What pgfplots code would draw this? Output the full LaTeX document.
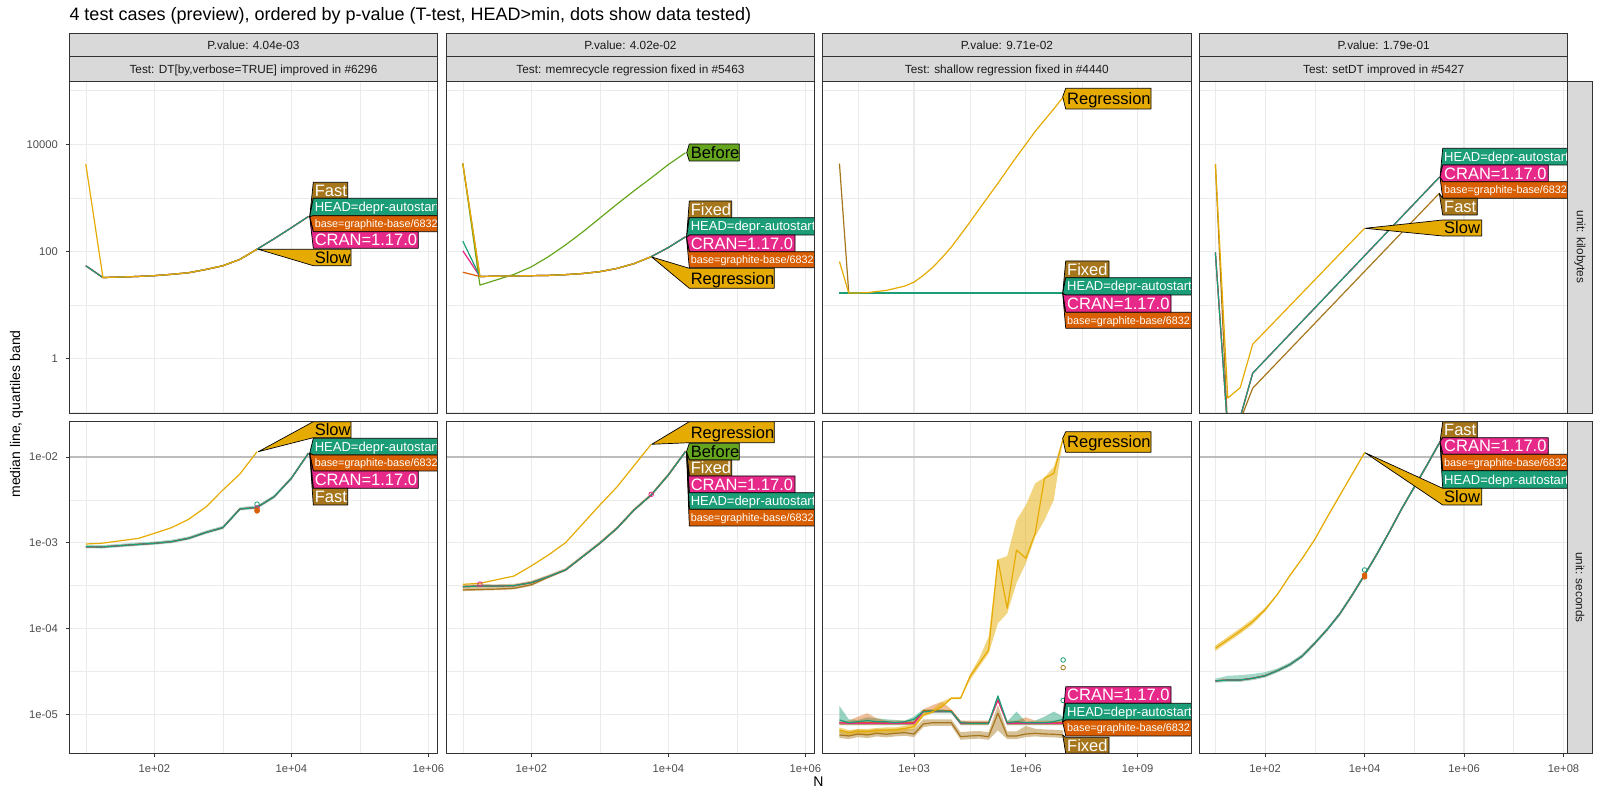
\documentclass[border=0pt]{standalone}
\usepackage{fontspec}
\setmainfont{Liberation Sans}
\usepackage{pgfplots}
\usepackage{pgfplotstable}
\pgfplotsset{compat=1.18}
\usepgfplotslibrary{fillbetween}

\definecolor{cHEAD}{HTML}{1B9E77}
\definecolor{cBASE}{HTML}{D95F02}
\definecolor{cCRAN}{HTML}{E7298A}
\definecolor{cBEF}{HTML}{66A61E}
\definecolor{cSLOW}{HTML}{E6AB02}
\definecolor{cFAST}{HTML}{A6761D}
\definecolor{grid92}{HTML}{EBEBEB}
\definecolor{g20}{HTML}{333333}
\definecolor{g30}{HTML}{4D4D4D}
\definecolor{g10}{HTML}{1A1A1A}
\definecolor{stripc}{HTML}{D9D9D9}
\definecolor{hlc}{HTML}{BDBDBD}

% ---- data (N = data size) ----
% row 1 = kilobytes, row 2 = seconds
\pgfplotstableread{
N slow other
10 4266 53.7
17.78 32.4 32.4
31.62 33.1 33.1
56.23 33.9 33.9
100 35.1 35.1
177.8 37.2 37.2
316.2 39.8 39.8
562.3 45.7 45.7
1000 53.7 53.7
1778 70.8 70.8
3162 109.6 109.6
5623 nan 171.8
10000 nan 275.4
17783 nan 446.7
}\tAa
\pgfplotstableread{
N reg head cran base fixed before
10 4365 154.9 102.3 40.7 4365 4365
17.78 33.9 33.9 33.9 33.9 33.9 23.4
31.62 34.3 34.3 34.3 34.3 34.3 29.5
56.23 34.7 34.7 34.7 34.7 34.7 37.2
100 35.1 35.1 35.1 35.1 35.1 51.3
177.8 35.5 35.5 35.5 35.5 35.5 79.4
316.2 36.7 36.7 36.7 36.7 36.7 131.8
562.3 38.5 38.5 38.5 38.5 38.5 229.1
1000 41.7 41.7 41.7 41.7 41.7 416.9
1778 47.9 47.9 47.9 47.9 47.9 758.6
3162 58.9 58.9 58.9 58.9 58.9 1349
5623 79.4 79.4 79.4 79.4 79.4 2344
10000 nan 117.5 117.5 117.5 117.5 4169
17783 nan 186.2 186.2 186.2 186.2 6918
}\tAb
\pgfplotstableread{
N reg other fixed
10 64.6 16.6 4365
17.78 16.6 16.6 16.6
31.62 16.7 16.6 16.6
56.23 16.9 16.6 16.6
100 17.8 16.6 16.6
177.8 18.6 16.6 16.6
316.2 20.4 16.6 16.6
562.3 22.4 16.6 16.6
1000 26.6 16.6 16.6
1778 35.5 16.6 16.6
3162 50.1 16.6 16.6
5623 75.9 16.6 16.6
10000 120.2 16.6 16.6
17783 204.2 16.6 16.6
31623 350.8 16.6 16.6
56234 616.6 16.6 16.6
100000 1072 16.6 16.6
177828 1862 16.6 16.6
316228 3311 16.6 16.6
562341 5821 16.6 16.6
1000000 10000 16.6 16.6
1778279 17378 16.6 16.6
3162278 28184 16.6 16.6
5623413 45709 16.6 16.6
10000000 75858 16.6 16.6
}\tAc
\pgfplotstableread{
N slow head fast
10 4266 95.5 4266
17.78 0.182 0.043 0.043
31.62 0.285 0.08 0.07
56.23 1.84 0.53 0.278
10000 269 nan nan
316228 nan 2399 1202
}\tAd
\pgfplotstableread{
N slow other oU oL
10 9.68e-4 8.99e-4 9.44e-4 8.63e-4
17 9.86e-4 8.93e-4 9.38e-4 8.57e-4
31.62 nan 9.25e-4 9.71e-4 8.88e-4
59 1.127e-3 9.59e-4 1.007e-3 9.21e-4
100 1.288e-3 9.86e-4 1.035e-3 9.47e-4
177.8 1.50e-3 1.03e-3 1.082e-3 9.89e-4
316.2 1.875e-3 1.127e-3 1.183e-3 1.082e-3
575 2.636e-3 1.324e-3 1.390e-3 1.271e-3
1000 4.12e-3 1.50e-3 1.575e-3 1.44e-3
1778 6.34e-3 2.477e-3 2.60e-3 2.378e-3
3162 1.153e-2 2.588e-3 2.717e-3 2.484e-3
5623 nan 3.443e-3 3.615e-3 3.305e-3
10000 nan 5.636e-3 5.918e-3 5.411e-3
17783 nan 1.104e-2 1.159e-2 1.06e-2
}\tBa
\pgfplotstableread{
N reg other fixed oU oL
10 3.28e-4 3.076e-4 2.818e-4 3.23e-4 2.73e-4
17.78 3.365e-4 3.133e-4 2.851e-4 3.29e-4 2.77e-4
31.62 3.715e-4 3.126e-4 2.884e-4 3.28e-4 2.80e-4
56.23 4.102e-4 3.162e-4 2.951e-4 3.32e-4 2.86e-4
100 5.37e-4 3.428e-4 3.236e-4 3.60e-4 3.14e-4
177.8 7.21e-4 4.027e-4 3.98e-4 4.23e-4 3.86e-4
316.2 1.002e-3 4.819e-4 4.819e-4 5.06e-4 4.67e-4
562.3 1.66e-3 6.887e-4 6.887e-4 7.23e-4 6.68e-4
1000 2.754e-3 9.86e-4 9.86e-4 1.035e-3 9.56e-4
1778 4.467e-3 1.472e-3 1.472e-3 1.546e-3 1.428e-3
3162 7.943e-3 2.410e-3 2.410e-3 2.53e-3 2.34e-3
5623 1.406e-2 3.606e-3 3.606e-3 3.786e-3 3.50e-3
10000 nan 6.166e-3 6.166e-3 6.47e-3 5.98e-3
17783 nan 1.153e-2 1.153e-2 1.21e-2 1.12e-2
}\tBb
\pgfplotstableread{
N reg regU regL head headU headL cran base baseU baseL fixed fixedU fixedL
10 6.56e-6 7.02e-6 6.04e-6 8.59e-6 1.25e-5 7.5e-6 7.98e-6 7.98e-6 8.2e-6 7.5e-6 5.74e-6 6.49e-6 5.28e-6
17.78 6.11e-6 6.54e-6 5.62e-6 7.98e-6 8.74e-6 7.5e-6 7.85e-6 7.98e-6 8.43e-6 7.5e-6 5.59e-6 6.32e-6 5.14e-6
31.62 6.31e-6 6.75e-6 5.81e-6 8.20e-6 8.59e-6 7.5e-6 7.85e-6 7.98e-6 9.38e-6 7.5e-6 5.89e-6 6.66e-6 5.42e-6
56.23 6.31e-6 6.75e-6 5.81e-6 8.43e-6 9.22e-6 7.5e-6 7.85e-6 7.98e-6 1.028e-5 7.5e-6 5.74e-6 6.49e-6 5.28e-6
100 6.46e-6 6.91e-6 5.94e-6 8.20e-6 8.97e-6 7.5e-6 7.85e-6 7.98e-6 8.97e-6 7.5e-6 6.00e-6 6.78e-6 5.52e-6
177.8 6.56e-6 7.02e-6 6.04e-6 8.20e-6 8.74e-6 7.5e-6 7.85e-6 7.98e-6 8.43e-6 7.5e-6 5.85e-6 6.61e-6 5.38e-6
316.2 6.56e-6 7.02e-6 6.04e-6 7.98e-6 8.59e-6 7.5e-6 7.85e-6 7.98e-6 8.43e-6 7.5e-6 6.00e-6 6.78e-6 5.52e-6
562.3 6.85e-6 7.33e-6 6.30e-6 8.20e-6 8.43e-6 7.5e-6 7.85e-6 7.98e-6 8.43e-6 7.5e-6 6.11e-6 6.90e-6 5.62e-6
1000 7.18e-6 7.68e-6 6.61e-6 8.74e-6 9.38e-6 7.5e-6 7.85e-6 7.98e-6 8.43e-6 7.5e-6 5.89e-6 6.66e-6 5.42e-6
1778 9.82e-6 1.05e-5 9.4e-6 1.074e-5 1.143e-5 1.028e-5 1.074e-5 1.102e-5 1.143e-5 1.05e-5 7.71e-6 8.74e-6 7.09e-6
3162 1.072e-5 1.15e-5 1.03e-5 1.094e-5 1.143e-5 1.028e-5 1.074e-5 1.102e-5 1.28e-5 1.05e-5 7.98e-6 8.74e-6 7.34e-6
5623 1.23e-5 1.40e-5 1.20e-5 1.094e-5 1.143e-5 1.028e-5 1.074e-5 1.102e-5 1.403e-5 1.05e-5 7.98e-6 8.74e-6 7.34e-6
10000 1.535e-5 1.58e-5 1.50e-5 1.074e-5 1.102e-5 1.028e-5 1.074e-5 1.102e-5 1.143e-5 1.05e-5 7.98e-6 8.74e-6 7.34e-6
17783 1.535e-5 1.60e-5 1.50e-5 7.98e-6 8.43e-6 7.5e-6 7.85e-6 7.98e-6 8.43e-6 7.5e-6 5.48e-6 6.19e-6 5.04e-6
31623 2.748e-5 2.9e-5 2.5e-5 7.85e-6 8.20e-6 7.5e-6 7.85e-6 7.98e-6 8.43e-6 7.5e-6 5.59e-6 6.32e-6 5.14e-6
56234 3.936e-5 4.5e-5 3.6e-5 7.85e-6 8.20e-6 7.5e-6 7.85e-6 7.98e-6 8.43e-6 7.5e-6 5.65e-6 6.38e-6 5.20e-6
100000 5.623e-5 8.0e-5 5.1e-5 7.85e-6 8.20e-6 7.5e-6 7.85e-6 7.98e-6 8.43e-6 7.5e-6 5.48e-6 6.19e-6 5.04e-6
177828 6.31e-4 6.4e-4 1.15e-4 1.633e-5 1.679e-5 1.5e-5 1.469e-5 1.469e-5 1.5e-5 1.4e-5 1.028e-5 1.283e-5 6.5e-6
316228 1.722e-4 7.0e-4 1.5e-4 7.98e-6 8.20e-6 7.5e-6 7.85e-6 7.98e-6 8.43e-6 7.5e-6 5.59e-6 6.32e-6 5.14e-6
562341 8.24e-4 1.84e-3 3.4e-4 8.20e-6 1.074e-5 7.5e-6 7.85e-6 7.98e-6 8.43e-6 7.5e-6 5.59e-6 6.32e-6 5.14e-6
1000000 6.59e-4 2.75e-3 5.75e-4 7.98e-6 8.20e-6 7.5e-6 7.85e-6 7.98e-6 9.22e-6 7.5e-6 5.89e-6 7.31e-6 5.42e-6
1778279 1.288e-3 4.93e-3 1.17e-3 7.98e-6 8.43e-6 7.5e-6 7.85e-6 7.98e-6 8.43e-6 7.5e-6 6.00e-6 6.78e-6 5.52e-6
3162278 5.636e-3 5.8e-3 1.84e-3 7.98e-6 9.38e-6 7.5e-6 7.85e-6 7.98e-6 8.43e-6 7.5e-6 5.89e-6 6.66e-6 5.42e-6
5623413 6.457e-3 7.7e-3 3.16e-3 8.20e-6 1.074e-5 7.5e-6 7.85e-6 7.98e-6 8.43e-6 7.5e-6 5.85e-6 6.61e-6 5.38e-6
10000000 1.652e-2 1.66e-2 1.64e-2 8.74e-6 9.38e-6 7.5e-6 7.85e-6 7.98e-6 8.43e-6 7.5e-6 5.74e-6 6.49e-6 5.28e-6
}\tBc
\pgfplotstableread{
N other oU oL
10 2.455e-5 2.60e-5 2.33e-5
17.78 2.512e-5 2.81e-5 2.39e-5
31.62 2.512e-5 2.86e-5 2.39e-5
56.23 2.630e-5 2.95e-5 2.50e-5
100 2.818e-5 3.10e-5 2.68e-5
177.8 3.236e-5 3.43e-5 3.07e-5
316.2 3.802e-5 4.03e-5 3.61e-5
562.3 4.786e-5 5.07e-5 4.55e-5
1000 6.761e-5 7.10e-5 6.42e-5
1778 9.772e-5 1.026e-4 9.28e-5
3162 1.479e-4 1.553e-4 1.405e-4
5623 2.455e-4 2.58e-4 2.33e-4
10000 4.217e-4 4.43e-4 4.01e-4
17783 7.413e-4 7.78e-4 7.04e-4
31623 1.349e-3 1.416e-3 1.282e-3
56234 2.512e-3 2.64e-3 2.39e-3
100000 4.467e-3 4.69e-3 4.24e-3
177828 7.943e-3 8.34e-3 7.55e-3
316228 1.445e-2 1.52e-2 1.37e-2
}\tBd
\pgfplotstableread{
N slow sU sL
10 5.888e-5 6.36e-5 5.48e-5
17.78 7.413e-5 8.0e-5 6.9e-5
31.62 9.333e-5 1.008e-4 8.68e-5
56.23 1.202e-4 1.298e-4 1.118e-4
100 1.660e-4 1.74e-4 1.58e-4
177.8 2.512e-4 2.56e-4 2.46e-4
316.2 4.169e-4 4.25e-4 4.09e-4
562.3 6.607e-4 6.74e-4 6.47e-4
1000 1.096e-3 1.118e-3 1.074e-3
1778 1.995e-3 2.035e-3 1.955e-3
3162 3.548e-3 3.62e-3 3.48e-3
5623 6.310e-3 6.44e-3 6.18e-3
10000 1.122e-2 1.144e-2 1.10e-2
}\tBe

\pgfplotsset{
  /pgfplots/facetpanel/.style={
    scale only axis, width=368.3pt, height=332pt, anchor=south west,
    axis line style={draw=g20, line width=0.75pt},
    grid=both,
    major grid style={draw=grid92, line width=1.1pt},
    minor grid style={draw=grid92, line width=0.55pt},
    tick pos=left,
    tick align=outside, major tick length=3.7pt, minor tick length=0pt,
    tick style={draw=g20, line width=0.75pt},
    xticklabel style={font=\fontsize{11.2}{12}\selectfont, text=g30, anchor=north, inner sep=0pt, yshift=-7.7pt},
    yticklabel style={font=\fontsize{11.2}{12}\selectfont, text=g30, anchor=east, inner sep=0pt, xshift=-7.6pt},
  },
  /pgfplots/rowkb/.style={ymin=0.0957, ymax=1.517e5, ytick={1,100,10000}, minor ytick={0.1,10,1000,1e5}},
  /pgfplots/rowsec/.style={ymin=3.508e-6, ymax=0.02582, ytick={1e-5,1e-4,1e-3,1e-2}, minor ytick={3.162e-5,3.162e-4,3.162e-3}},
  /pgfplots/colab/.style={xmin=5.741, xmax=1.368e6, xtick={100,1e4,1e6}, minor xtick={10,1000,1e5}},
  /pgfplots/colc/.style={xmin=3.556, xmax=2.692e10, xtick={1e3,1e6,1e9}, minor xtick={31.62,31623,3.162e7}},
  /pgfplots/cold/.style={xmin=4.797, xmax=1.222e8, xtick={100,1e4,1e6,1e8}, minor xtick={10,1000,1e5,1e7}},
  /pgfplots/noxt/.style={xticklabels={}, xtick style={draw=none}},
  /pgfplots/noyt/.style={yticklabels={}, ytick style={draw=none}},
  /pgfplots/ln/.style={line width=1.2pt, line join=round},
  /pgfplots/dotm/.style={only marks, mark=o, mark size=2.3pt, line width=0.8pt},
  /pgfplots/refl/.style={draw=hlc, line width=1.1pt},
}

% directlabels-style polygon: point, box left, top, bottom, right, fill, text colour, size, text
\newcommand{\dlab}[9]{%
  \filldraw[fill=#6, draw=black, line width=0.7pt, line join=round] (#1) -- (#2,#3) -- (#5,#3) -- (#5,#4) -- (#2,#4) -- cycle;
  \node[anchor=base west, inner sep=0pt, text=#7, font=\fontsize{#8}{#8}\selectfont] at ({#2+1.3},{(#3+#4)/2+0.358*#8}) {#9};}
\newcommand{\stripbox}[5]{%
  \filldraw[fill=stripc, draw=g20, line width=0.7pt] (#1,#3) rectangle (#2,#4);
  \node[anchor=base, inner sep=0pt, text=g10, font=\fontsize{11.8}{12}\selectfont] at ({(#1+#2)/2},{(#3+#4)/2+4.6}) {#5};}

\begin{document}
\begin{tikzpicture}

% ---------------- row 1: kilobytes ----------------
\begin{axis}[xmode=log, ymode=log, facetpanel, rowkb, colab, noxt, at={(69.3pt,387pt)}, yticklabels={1,100,10000}]
\addplot[ln, cFAST] table[x=N, y=other] {\tAa};
\addplot[ln, cBASE] table[x=N, y=other] {\tAa};
\addplot[ln, cCRAN] table[x=N, y=other] {\tAa};
\addplot[ln, cHEAD] table[x=N, y=other] {\tAa};
\addplot[ln, cSLOW] table[x=N, y=slow] {\tAa};
\end{axis}

\begin{axis}[xmode=log, ymode=log, facetpanel, rowkb, colab, noxt, noyt, at={(446.3pt,387pt)}]
\addplot[ln, cBEF] table[x=N, y=before] {\tAb};
\addplot[ln, cFAST] table[x=N, y=fixed] {\tAb};
\addplot[ln, cBASE] table[x=N, y=base] {\tAb};
\addplot[ln, cCRAN] table[x=N, y=cran] {\tAb};
\addplot[ln, cHEAD] table[x=N, y=head] {\tAb};
\addplot[ln, cSLOW] table[x=N, y=reg] {\tAb};
\end{axis}

\begin{axis}[xmode=log, ymode=log, facetpanel, rowkb, colc, noxt, noyt, at={(822.7pt,387pt)}]
\addplot[ln, cFAST] table[x=N, y=fixed] {\tAc};
\addplot[ln, cBASE] table[x=N, y=other] {\tAc};
\addplot[ln, cCRAN] table[x=N, y=other] {\tAc};
\addplot[ln, cHEAD] table[x=N, y=other] {\tAc};
\addplot[ln, cSLOW] table[x=N, y=reg] {\tAc};
\end{axis}

\begin{axis}[xmode=log, ymode=log, facetpanel, rowkb, cold, noxt, noyt, at={(1199.5pt,387pt)}]
\addplot[ln, cFAST] table[x=N, y=fast] {\tAd};
\addplot[ln, cBASE] table[x=N, y=head] {\tAd};
\addplot[ln, cCRAN] table[x=N, y=head] {\tAd};
\addplot[ln, cHEAD] table[x=N, y=head] {\tAd};
\addplot[ln, cSLOW] table[x=N, y=slow] {\tAd};
\end{axis}

% ---------------- row 2: seconds ----------------
\begin{axis}[xmode=log, ymode=log, facetpanel, rowsec, colab, at={(69.3pt,46.7pt)}, height=331.6pt,
  xticklabels={1e+02,1e+04,1e+06}, yticklabels={1e-05,1e-04,1e-03,1e-02}]
\addplot[refl] coordinates {(5.741,0.01)(1.368e6,0.01)};
\addplot[name path=u, draw=none] table[x=N, y=oU] {\tBa};
\addplot[name path=l, draw=none] table[x=N, y=oL] {\tBa};
\addplot[fill=cHEAD, fill opacity=0.4, draw=none] fill between[of=u and l];
\addplot[ln, cFAST] table[x=N, y=other] {\tBa};
\addplot[ln, cBASE] table[x=N, y=other] {\tBa};
\addplot[ln, cCRAN] table[x=N, y=other] {\tBa};
\addplot[ln, cHEAD] table[x=N, y=other] {\tBa};
\addplot[ln, cSLOW] table[x=N, y=slow] {\tBa};
\addplot[dotm, cHEAD] coordinates {(3162,2.82e-3)};
\addplot[dotm, cCRAN] coordinates {(3162,2.55e-3)};
\addplot[dotm, cBASE, mark=*] coordinates {(3162,2.41e-3)(3162,2.35e-3)};
\end{axis}

\begin{axis}[xmode=log, ymode=log, facetpanel, rowsec, colab, noyt, at={(446.3pt,46.7pt)}, height=331.6pt,
  xticklabels={1e+02,1e+04,1e+06}]
\addplot[refl] coordinates {(5.741,0.01)(1.368e6,0.01)};
\addplot[name path=u, draw=none] table[x=N, y=oU] {\tBb};
\addplot[name path=l, draw=none] table[x=N, y=oL] {\tBb};
\addplot[fill=cFAST, fill opacity=0.45, draw=none] fill between[of=u and l];
\addplot[ln, cFAST] table[x=N, y=fixed] {\tBb};
\addplot[ln, cBEF] table[x=N, y=other] {\tBb};
\addplot[ln, cBASE] table[x=N, y=other] {\tBb};
\addplot[ln, cCRAN] table[x=N, y=other] {\tBb};
\addplot[ln, cHEAD] table[x=N, y=other] {\tBb};
\addplot[ln, cSLOW] table[x=N, y=reg] {\tBb};
\addplot[dotm, cCRAN] coordinates {(5623,3.67e-3)(17.78,3.3e-4)};
\end{axis}

\begin{axis}[xmode=log, ymode=log, facetpanel, rowsec, colc, noyt, at={(822.7pt,46.7pt)}, height=331.6pt,
  xticklabels={1e+03,1e+06,1e+09}]
\addplot[refl] coordinates {(3.556,0.01)(2.692e10,0.01)};
\addplot[name path=hu, draw=none] table[x=N, y=headU] {\tBc};
\addplot[name path=hd, draw=none] table[x=N, y=headL] {\tBc};
\addplot[fill=cHEAD, fill opacity=0.45, draw=none] fill between[of=hu and hd];
\addplot[name path=bu, draw=none] table[x=N, y=baseU] {\tBc};
\addplot[name path=bd, draw=none] table[x=N, y=baseL] {\tBc};
\addplot[fill=cBASE, fill opacity=0.4, draw=none] fill between[of=bu and bd];
\addplot[name path=fu, draw=none] table[x=N, y=fixedU] {\tBc};
\addplot[name path=fd, draw=none] table[x=N, y=fixedL] {\tBc};
\addplot[fill=cFAST, fill opacity=0.45, draw=none] fill between[of=fu and fd];
\addplot[name path=ru, draw=none] table[x=N, y=regU] {\tBc};
\addplot[name path=rd, draw=none] table[x=N, y=regL] {\tBc};
\addplot[fill=cSLOW, fill opacity=0.5, draw=none] fill between[of=ru and rd];
\addplot[ln, cFAST] table[x=N, y=fixed] {\tBc};
\addplot[ln, cBASE] table[x=N, y=base] {\tBc};
\addplot[ln, cCRAN] table[x=N, y=cran] {\tBc};
\addplot[ln, cHEAD] table[x=N, y=head] {\tBc};
\addplot[ln, cSLOW] table[x=N, y=reg] {\tBc};
\addplot[dotm, cHEAD] coordinates {(1e7,4.3e-5)(1e7,1.45e-5)};
\addplot[dotm, cFAST] coordinates {(1e7,3.5e-5)};
\end{axis}

\begin{axis}[xmode=log, ymode=log, facetpanel, rowsec, cold, noyt, at={(1199.5pt,46.7pt)}, height=331.6pt,
  xticklabels={1e+02,1e+04,1e+06,1e+08}]
\addplot[refl] coordinates {(4.797,0.01)(1.222e8,0.01)};
\addplot[name path=u, draw=none] table[x=N, y=oU] {\tBd};
\addplot[name path=l, draw=none] table[x=N, y=oL] {\tBd};
\addplot[fill=cHEAD, fill opacity=0.4, draw=none] fill between[of=u and l];
\addplot[name path=su, draw=none] table[x=N, y=sU] {\tBe};
\addplot[name path=sd, draw=none] table[x=N, y=sL] {\tBe};
\addplot[fill=cSLOW, fill opacity=0.5, draw=none] fill between[of=su and sd];
\addplot[ln, cFAST] table[x=N, y=other] {\tBd};
\addplot[ln, cBASE] table[x=N, y=other] {\tBd};
\addplot[ln, cCRAN] table[x=N, y=other] {\tBd};
\addplot[ln, cHEAD] table[x=N, y=other] {\tBd};
\addplot[ln, cSLOW] table[x=N, y=slow] {\tBe};
\addplot[dotm, cHEAD] coordinates {(10000,4.82e-4)};
\addplot[dotm, cBASE, mark=*] coordinates {(10000,4.2e-4)(10000,4.0e-4)};
\end{axis}

% ---------------- labels, strips, titles (pixel frame) ----------------
\begin{scope}[x=1pt, y=-1pt, shift={(0pt,800pt)}]
\begin{scope}
\clip (69.3,81) rectangle (437.6,413);
\dlab{309.7,216.7}{313.3}{182.3}{198.3}{347.7}{cFAST}{white}{16.5}{Fast}
\dlab{309.7,216.7}{313.3}{198.3}{215.7}{480}{cHEAD}{white}{13}{HEAD=depr-autostart}
\dlab{309.7,216.7}{313.3}{215.7}{231.7}{480}{cBASE}{white}{10.8}{base=graphite-base/6832}
\dlab{309.7,216.7}{313.3}{231.7}{248.3}{418.3}{cCRAN}{white}{16.5}{CRAN=1.17.0}
\dlab{258.3,249.3}{313.3}{249.3}{265.7}{351}{cSLOW}{black}{16.5}{Slow}
\end{scope}
\begin{scope}
\clip (446.3,81) rectangle (814.6,413);
\dlab{686.7,152.7}{689.3}{144}{161}{739.3}{cBEF}{black}{16.5}{Before}
\dlab{686.5,237.7}{689.3}{201}{217.7}{731.7}{cFAST}{white}{16.5}{Fixed}
\dlab{686.5,237.7}{689.3}{217.7}{235}{860}{cHEAD}{white}{13}{HEAD=depr-autostart}
\dlab{686.5,237.7}{689.3}{235}{251.7}{795}{cCRAN}{white}{16.5}{CRAN=1.17.0}
\dlab{686.5,237.7}{689.3}{251.7}{267.7}{860}{cBASE}{white}{10.8}{base=graphite-base/6832}
\dlab{651.7,257}{689.3}{268.3}{288.3}{774.3}{cSLOW}{black}{16.5}{Regression}
\end{scope}
\begin{scope}
\clip (822.7,81) rectangle (1191,413);
\dlab{1062.7,96.7}{1065.7}{88.3}{109}{1151}{cSLOW}{black}{16.5}{Regression}
\dlab{1062.7,293.3}{1065.7}{261}{277.7}{1109}{cFAST}{white}{16.5}{Fixed}
\dlab{1062.7,293.3}{1065.7}{277.7}{295}{1250}{cHEAD}{white}{13}{HEAD=depr-autostart}
\dlab{1062.7,293.3}{1065.7}{295}{312.3}{1171}{cCRAN}{white}{16.5}{CRAN=1.17.0}
\dlab{1062.7,293.3}{1065.7}{312.3}{328.3}{1250}{cBASE}{white}{10.8}{base=graphite-base/6832}
\end{scope}
\begin{scope}
\clip (1199.5,81) rectangle (1567.8,413);
\dlab{1440,177.3}{1442.7}{148.3}{165}{1620}{cHEAD}{white}{13}{HEAD=depr-autostart}
\dlab{1440,177.3}{1442.7}{165}{181.7}{1548.3}{cCRAN}{white}{16.5}{CRAN=1.17.0}
\dlab{1440,177.3}{1442.7}{181.7}{198.3}{1620}{cBASE}{white}{10.8}{base=graphite-base/6832}
\dlab{1439.3,193.3}{1442.7}{198.3}{215}{1477.3}{cFAST}{white}{16.5}{Fast}
\dlab{1365,228.3}{1442.7}{220}{236}{1481.7}{cSLOW}{black}{16.5}{Slow}
\end{scope}
\begin{scope}
\clip (69.3,421.7) rectangle (437.6,753.3);
\dlab{258.3,451.7}{313.3}{421.7}{437.7}{351}{cSLOW}{black}{16.5}{Slow}
\dlab{309.7,453.3}{313.3}{438.3}{455}{480}{cHEAD}{white}{13}{HEAD=depr-autostart}
\dlab{309.7,453.3}{313.3}{455}{471}{480}{cBASE}{white}{10.8}{base=graphite-base/6832}
\dlab{309.7,453.3}{313.3}{471}{488.3}{418.3}{cCRAN}{white}{16.5}{CRAN=1.17.0}
\dlab{309.7,453.3}{313.3}{488.3}{505}{347.7}{cFAST}{white}{16.5}{Fast}
\end{scope}
\begin{scope}
\clip (446.3,421.7) rectangle (814.6,753.3);
\dlab{651.7,444.3}{689.3}{421.7}{442.7}{774.3}{cSLOW}{black}{16.5}{Regression}
\dlab{686.5,451.7}{689.3}{443.3}{460}{739.3}{cBEF}{black}{16.5}{Before}
\dlab{686.5,451.7}{689.3}{460}{476}{731.7}{cFAST}{white}{16.5}{Fixed}
\dlab{686.5,451.7}{689.3}{476}{492.7}{795}{cCRAN}{white}{16.5}{CRAN=1.17.0}
\dlab{686.5,451.7}{689.3}{492.7}{509.3}{860}{cHEAD}{white}{13}{HEAD=depr-autostart}
\dlab{686.5,451.7}{689.3}{509.3}{526}{860}{cBASE}{white}{10.8}{base=graphite-base/6832}
\end{scope}
\begin{scope}
\clip (822.7,421.7) rectangle (1191,753.3);
\dlab{1062.7,438.3}{1065.7}{431.7}{452.3}{1151}{cSLOW}{black}{16.5}{Regression}
\dlab{1062.7,722}{1065.7}{686.7}{703.3}{1171}{cCRAN}{white}{16.5}{CRAN=1.17.0}
\dlab{1062.7,722}{1065.7}{703.3}{720}{1250}{cHEAD}{white}{13}{HEAD=depr-autostart}
\dlab{1062.7,722}{1065.7}{720}{736}{1250}{cBASE}{white}{10.8}{base=graphite-base/6832}
\dlab{1062.7,735}{1065.7}{737.3}{753.3}{1109}{cFAST}{white}{16.5}{Fixed}
\end{scope}
\begin{scope}
\clip (1199.5,421.7) rectangle (1567.8,753.3);
\dlab{1440,441.7}{1442.7}{421.7}{437.7}{1477.3}{cFAST}{white}{16.5}{Fast}
\dlab{1440,441.7}{1442.7}{437.7}{454.3}{1548.3}{cCRAN}{white}{16.5}{CRAN=1.17.0}
\dlab{1440,441.7}{1442.7}{454.3}{470.7}{1620}{cBASE}{white}{10.8}{base=graphite-base/6832}
\dlab{1440,441.7}{1442.7}{470.7}{488.3}{1620}{cHEAD}{white}{13}{HEAD=depr-autostart}
\dlab{1365,452.7}{1442.7}{488.3}{505}{1481.7}{cSLOW}{black}{16.5}{Slow}
\end{scope}

% panel borders on top
\draw[g20, line width=0.75pt] (69.3,81) rectangle (437.6,413) (446.3,81) rectangle (814.6,413)
  (822.7,81) rectangle (1191,413) (1199.5,81) rectangle (1567.8,413)
  (69.3,421.7) rectangle (437.6,753.3) (446.3,421.7) rectangle (814.6,753.3)
  (822.7,421.7) rectangle (1191,753.3) (1199.5,421.7) rectangle (1567.8,753.3);

% strips
\stripbox{69.3}{437.6}{33.3}{56.7}{P.value: 4.04e-03}
\stripbox{69.3}{437.6}{56.7}{81}{Test: DT[by,verbose=TRUE] improved in \#6296}
\stripbox{446.3}{814.6}{33.3}{56.7}{P.value: 4.02e-02}
\stripbox{446.3}{814.6}{56.7}{81}{Test: memrecycle regression fixed in \#5463}
\stripbox{822.7}{1191}{33.3}{56.7}{P.value: 9.71e-02}
\stripbox{822.7}{1191}{56.7}{81}{Test: shallow regression fixed in \#4440}
\stripbox{1199.5}{1567.8}{33.3}{56.7}{P.value: 1.79e-01}
\stripbox{1199.5}{1567.8}{56.7}{81}{Test: setDT improved in \#5427}
\filldraw[fill=stripc, draw=g20, line width=0.7pt] (1567.8,81) rectangle (1592,413);
\filldraw[fill=stripc, draw=g20, line width=0.7pt] (1567.8,421.7) rectangle (1592,753.3);
\node[rotate=-90, inner sep=0pt, text=g10, font=\fontsize{11.8}{12}\selectfont] at (1580,247) {unit: kilobytes};
\node[rotate=-90, inner sep=0pt, text=g10, font=\fontsize{11.8}{12}\selectfont] at (1580,587.5) {unit: seconds};

% titles
\node[anchor=base west, inner sep=0pt, font=\fontsize{18}{20}\selectfont] at (69.3,21)
  {4 test cases (preview), ordered by p-value (T-test, HEAD>min, dots show data tested)};
\node[rotate=90, inner sep=0pt, font=\fontsize{14}{16}\selectfont] at (16.5,414) {median line, quartiles band};
\node[inner sep=0pt, font=\fontsize{14}{16}\selectfont] at (818.5,782) {N};
\end{scope}

\pgfresetboundingbox
\path (0pt,0pt) rectangle (1600pt,800pt);
\end{tikzpicture}
\end{document}
